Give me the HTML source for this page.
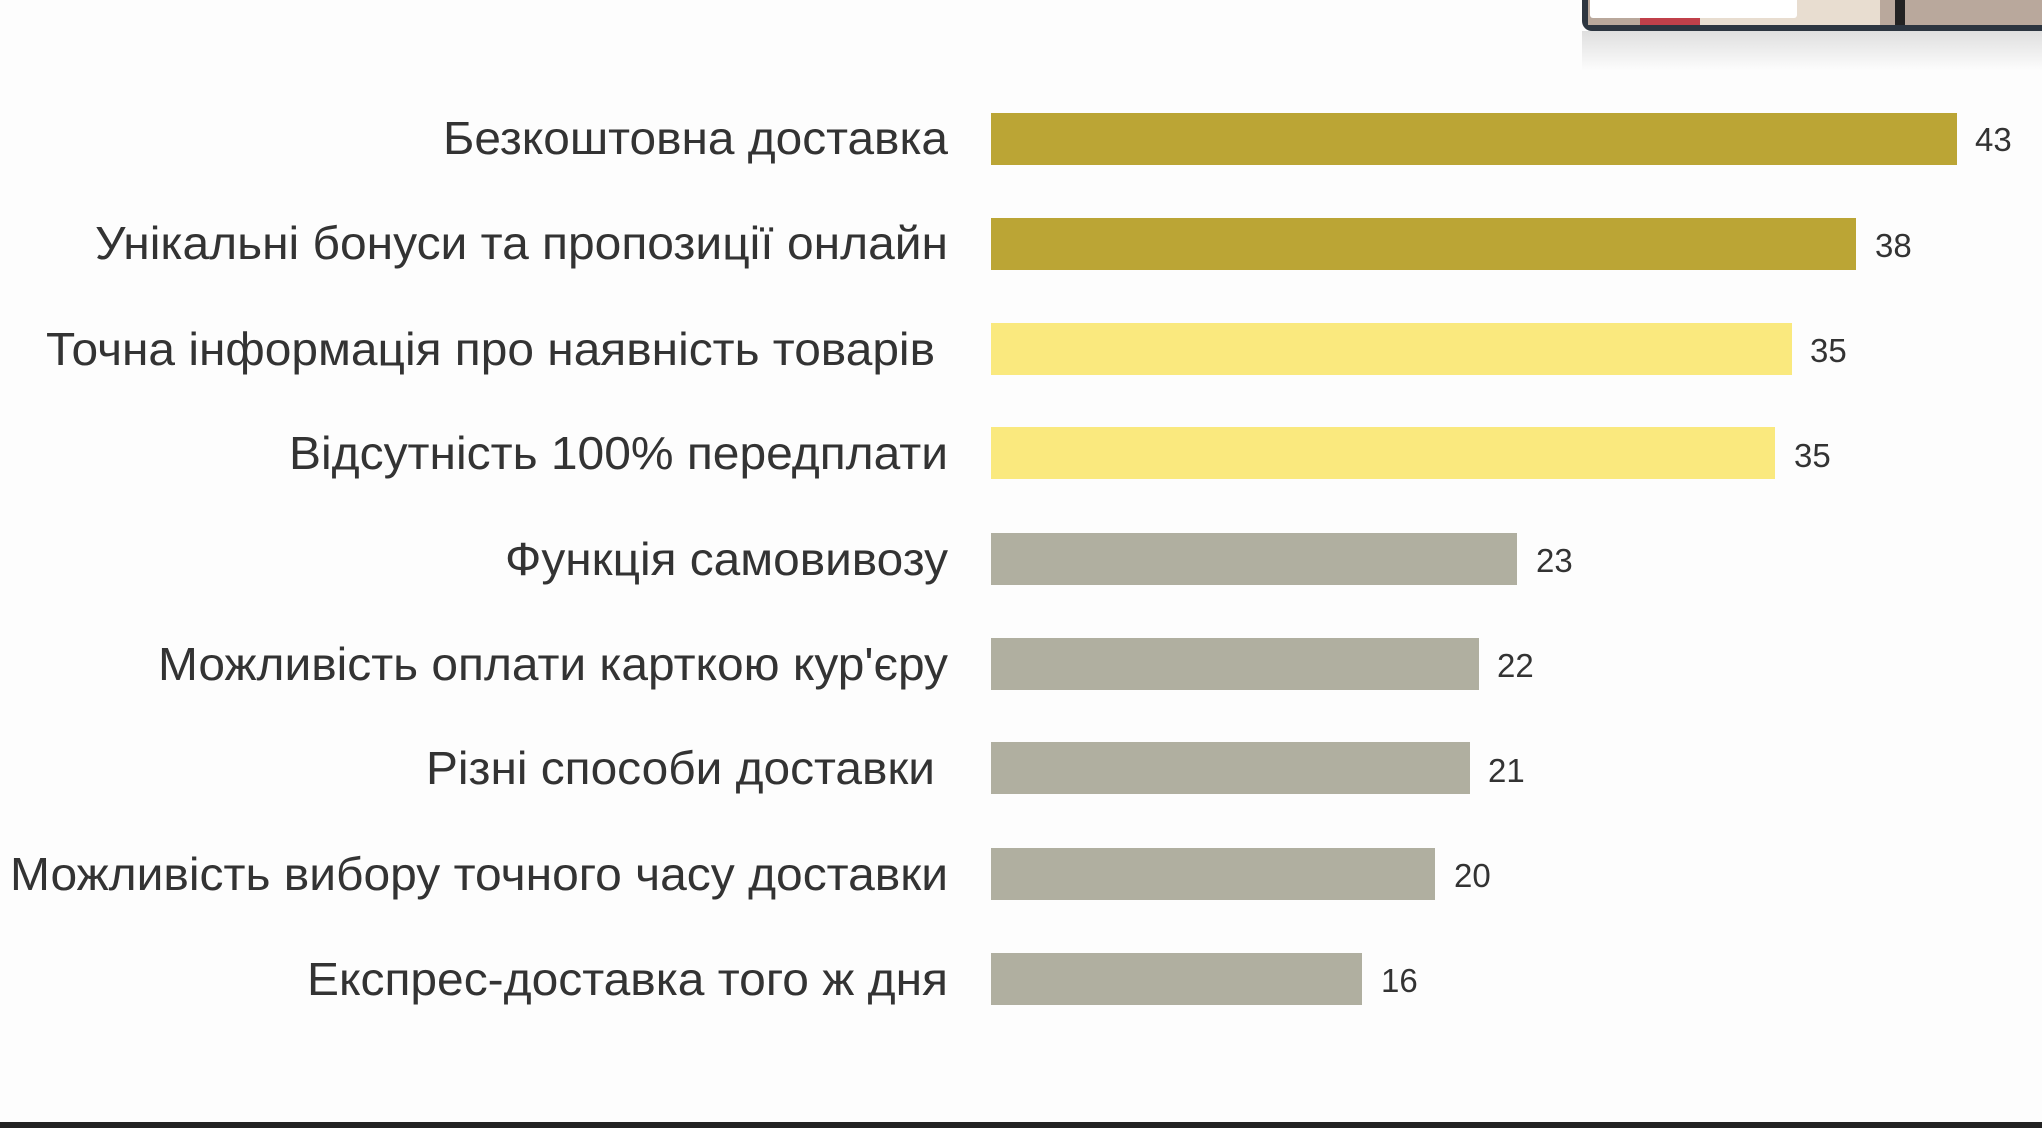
<!DOCTYPE html>
<html><head><meta charset="utf-8"><style>
html,body{margin:0;padding:0;background:#fdfdfd;width:2042px;height:1128px;overflow:hidden}
</style></head><body>
<svg width="2042" height="1128" xmlns="http://www.w3.org/2000/svg" style="display:block">
<defs>
<linearGradient id="sh" x1="0" y1="0" x2="0" y2="1"><stop offset="0" stop-color="#000" stop-opacity="0.12"/><stop offset="1" stop-color="#000" stop-opacity="0"/></linearGradient>
</defs>
<rect width="2042" height="1128" fill="#fdfdfd"/>
<rect x="1582" y="31" width="460" height="40" fill="url(#sh)"/>
<rect x="1582" y="-20" width="470" height="51" rx="10" fill="#2c3540"/>
<rect x="1588" y="-20" width="460" height="45" fill="#b9a89c"/>
<rect x="1640" y="-5" width="60" height="30" fill="#c0404a"/>
<rect x="1700" y="-5" width="180" height="30" fill="#e8ddd0"/>
<rect x="1895" y="-5" width="10" height="30" fill="#222"/>
<rect x="1590" y="-10" width="207" height="28" rx="3" fill="#ffffff"/>
<g font-family="Liberation Sans, sans-serif" fill="#333">
<g font-size="46" text-anchor="end">
<text x="948" y="154" textLength="505" lengthAdjust="spacingAndGlyphs">Безкоштовна доставка</text>
<text x="948" y="259" textLength="853" lengthAdjust="spacingAndGlyphs">Унікальні бонуси та пропозиції онлайн</text>
<text x="935" y="365" textLength="889" lengthAdjust="spacingAndGlyphs">Точна інформація про наявність товарів</text>
<text x="948" y="469" textLength="659" lengthAdjust="spacingAndGlyphs">Відсутність 100% передплати</text>
<text x="948" y="575" textLength="443" lengthAdjust="spacingAndGlyphs">Функція самовивозу</text>
<text x="948" y="680" textLength="790" lengthAdjust="spacingAndGlyphs">Можливість оплати карткою кур'єру</text>
<text x="935" y="784" textLength="509" lengthAdjust="spacingAndGlyphs">Різні способи доставки</text>
<text x="948" y="890" textLength="938" lengthAdjust="spacingAndGlyphs">Можливість вибору точного часу доставки</text>
<text x="948" y="995" textLength="641" lengthAdjust="spacingAndGlyphs">Експрес-доставка того ж дня</text>
</g>
<rect x="991" y="113" width="966" height="52" fill="#bba535"/>
<rect x="991" y="218" width="865" height="52" fill="#bba535"/>
<rect x="991" y="323" width="801" height="52" fill="#fae97e"/>
<rect x="991" y="427" width="784" height="52" fill="#fae97e"/>
<rect x="991" y="533" width="526" height="52" fill="#b0afa0"/>
<rect x="991" y="638" width="488" height="52" fill="#b0afa0"/>
<rect x="991" y="742" width="479" height="52" fill="#b0afa0"/>
<rect x="991" y="848" width="444" height="52" fill="#b0afa0"/>
<rect x="991" y="953" width="371" height="52" fill="#b0afa0"/>
<g font-size="33">
<text x="1975" y="151">43</text>
<text x="1875" y="257">38</text>
<text x="1810" y="362">35</text>
<text x="1794" y="467">35</text>
<text x="1536" y="572">23</text>
<text x="1497" y="677">22</text>
<text x="1488" y="782">21</text>
<text x="1454" y="887">20</text>
<text x="1381" y="992">16</text>
</g>
</g>
<rect x="0" y="1122" width="2042" height="6" fill="#222"/>
</svg>
</body></html>
